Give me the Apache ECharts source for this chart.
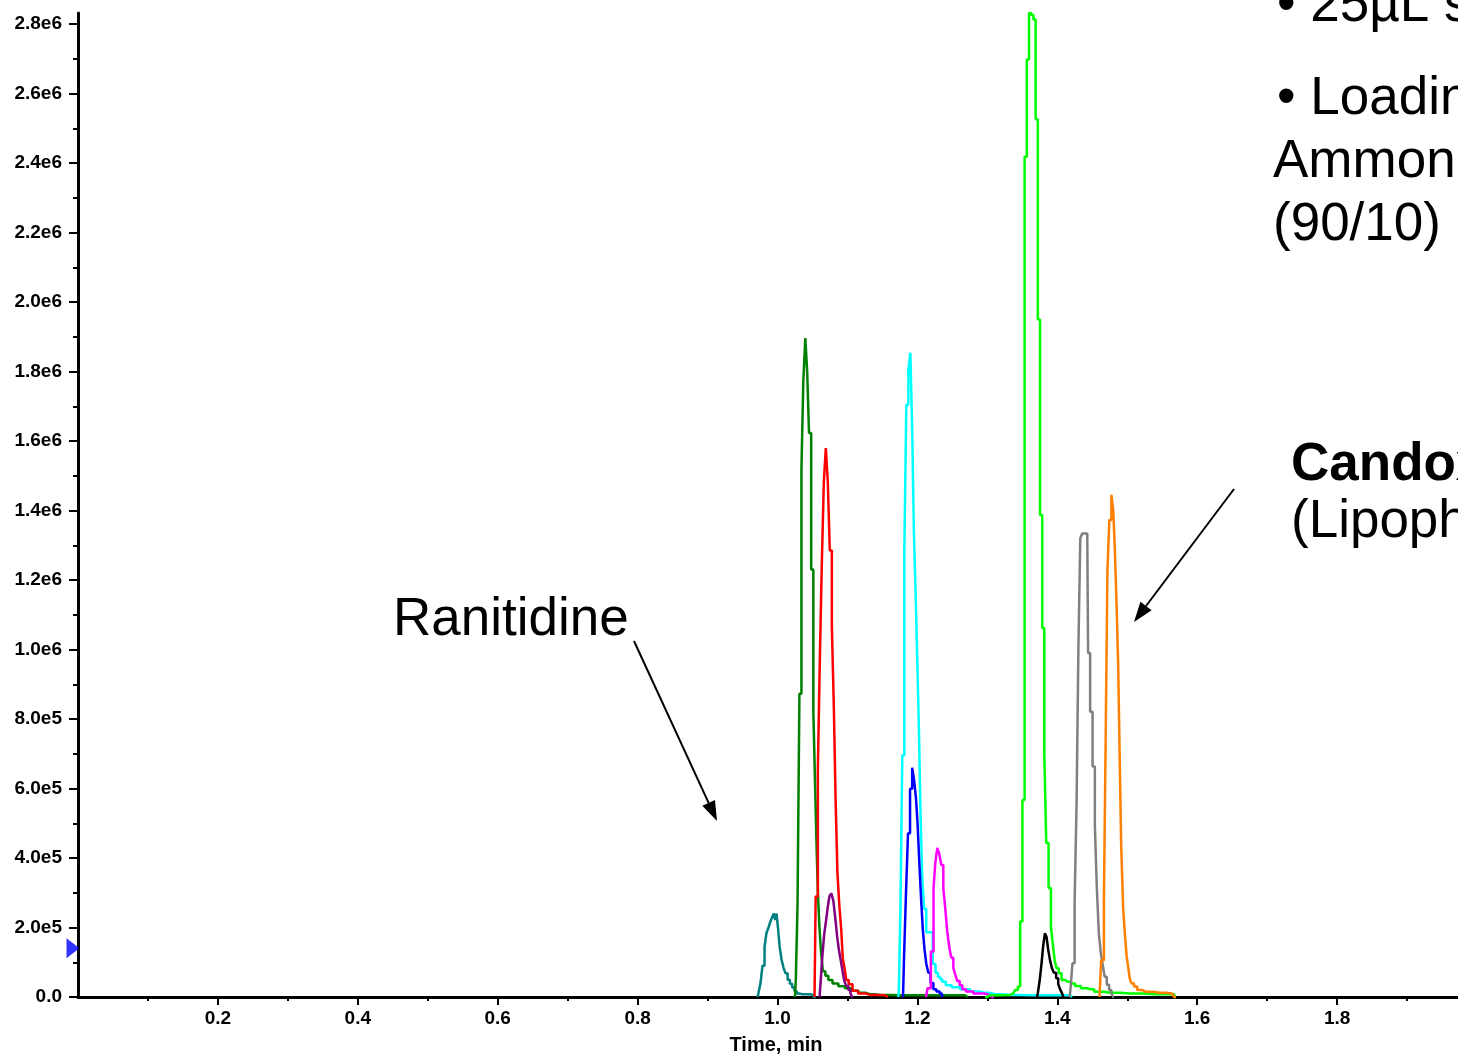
<!DOCTYPE html>
<html>
<head>
<meta charset="utf-8">
<script src="https://cdn.jsdelivr.net/npm/echarts@6/dist/echarts.min.js"></script>
<style>
  html, body { margin: 0; padding: 0; background: #ffffff; overflow: hidden; }
  #chart { width: 1458px; height: 1055px; }
</style>
</head>
<body>
<div id="chart"></div>
<script>
// Extracted ion chromatograms: [retention time (min), intensity (cps)]
const tealTrace = [
  [0.9714,0],[0.9743,12000],[0.9771,40000],[0.9800,90000],[0.9829,145000],[0.9857,185000],
  [0.9886,200000],[0.9914,218000],[0.9936,230000],[0.9957,240000],[0.9976,222000],[0.9996,240000],
  [1.0017,200000],[1.0043,145000],[1.0072,108000],[1.0100,84000],[1.0129,68000],[1.0160,50000],
  [1.0193,38000],[1.0226,27000],[1.0257,17000],[1.0290,10000],[1.0322,8000],[1.0393,8000],
  [1.0493,7000],[1.0550,0]
];
const darkGreenTrace = [
  [1.0250,0],[1.0275,55000],[1.0297,264000],[1.0329,873000],[1.0355,1519000],[1.0383,1773000],
  [1.0412,1896000],[1.0436,1800000],[1.0465,1623000],[1.0498,1230000],[1.0526,824000],[1.0550,603000],
  [1.0569,424000],[1.0586,301000],[1.0608,209000],[1.0632,135000],[1.0665,74000],[1.0703,61000],
  [1.0751,49000],[1.0822,39000],[1.0918,31000],[1.1008,25000],[1.1108,18000],[1.1208,12000],
  [1.1322,8000],[1.1465,6000],[1.1751,5000],[1.2180,5000],[1.2681,5000],[1.2723,0]
];
const redTrace = [
  [1.0529,0],[1.0562,289000],[1.0591,652000],[1.0619,971000],[1.0648,1248000],[1.0676,1482000],
  [1.0705,1580000],[1.0733,1482000],[1.0762,1285000],[1.0791,1070000],[1.0819,836000],[1.0844,560000],
  [1.0869,357000],[1.0898,264000],[1.0922,197000],[1.0944,111000],[1.0968,86000],[1.0998,49000],
  [1.1037,37000],[1.1108,18000],[1.1194,10000],[1.1322,6000],[1.1537,5000],[1.1580,0]
];
const purpleTrace = [
  [1.0601,0],[1.0629,40000],[1.0655,120000],[1.0679,180000],[1.0703,215000],[1.0729,255000],
  [1.0755,290000],[1.0784,298000],[1.0812,277000],[1.0839,228000],[1.0865,175000],[1.0891,135000],
  [1.0918,105000],[1.0942,74000],[1.0968,46000],[1.0998,32000],[1.1027,20000],[1.1058,10000],[1.1079,0]
];
const cyanTrace = [
  [1.1723,0],[1.1744,10000],[1.1769,247000],[1.1799,696000],[1.1827,1285000],[1.1856,1704000],
  [1.1885,1805000],[1.1913,1854000],[1.1937,1637000],[1.1962,1340000],[1.1984,1170000],[1.2009,981000],
  [1.2033,775000],[1.2056,526000],[1.2084,338000],[1.2109,253000],[1.2144,186000],[1.2195,186000],
  [1.2242,95000],[1.2276,70000],[1.2309,58000],[1.2337,52000],[1.2370,44000],[1.2442,34000],
  [1.2538,28000],[1.2681,22000],[1.2824,16000],[1.2967,12000],[1.3109,8000],[1.3324,6000],
  [1.3610,5000],[1.3896,5000],[1.4182,5000],[1.4210,0]
];
const blueTrace = [
  [1.1794,0],[1.1823,113000],[1.1851,301000],[1.1880,471000],[1.1909,599000],[1.1941,660000],
  [1.1966,623000],[1.1990,575000],[1.2013,502000],[1.2042,386000],[1.2066,277000],[1.2090,192000],
  [1.2113,137000],[1.2142,95000],[1.2170,70000],[1.2205,40000],[1.2252,22000],[1.2290,16000],
  [1.2348,10000],[1.2366,0]
];
const magentaTrace = [
  [1.2123,0],[1.2166,25000],[1.2219,131000],[1.2242,313000],[1.2270,386000],[1.2299,429000],
  [1.2327,411000],[1.2356,380000],[1.2385,313000],[1.2413,253000],[1.2442,186000],[1.2470,143000],
  [1.2499,113000],[1.2528,83000],[1.2556,64000],[1.2585,46000],[1.2623,34000],[1.2662,22000],
  [1.2728,16000],[1.2871,10000],[1.3038,6000],[1.3095,0]
];
const limeTrace = [
  [1.2967,0],[1.3038,5000],[1.3324,6000],[1.3371,10000],[1.3420,20000],[1.3453,30000],
  [1.3485,217000],[1.3517,567000],[1.3548,2418000],[1.3580,2698000],[1.3611,2832000],[1.3643,2826000],
  [1.3674,2813000],[1.3706,2526000],[1.3737,1950000],[1.3769,1387000],[1.3800,1062000],[1.3827,702000],
  [1.3857,443000],[1.3893,314000],[1.3924,202000],[1.3950,150000],[1.3974,106000],[1.4003,83000],
  [1.4039,68000],[1.4082,49000],[1.4146,44000],[1.4217,39000],[1.4289,32000],[1.4382,25000],
  [1.4475,22000],[1.4582,15000],[1.4754,12000],[1.5039,10000],[1.5397,8000],[1.5668,8000],[1.5697,0]
];
const blackTrace = [
  [1.3710,0],[1.3731,10000],[1.3763,46000],[1.3786,97000],[1.3810,147000],[1.3834,183000],
  [1.3857,173000],[1.3884,135000],[1.3910,104000],[1.3936,83000],[1.3967,70000],[1.3999,54000],
  [1.4027,37000],[1.4053,22000],[1.4077,12000],[1.4096,0]
];
const grayTrace = [
  [1.4175,0],[1.4200,20000],[1.4232,97000],[1.4263,274000],[1.4289,567000],[1.4315,1013000],
  [1.4342,1320000],[1.4370,1334000],[1.4399,1334000],[1.4428,1334000],[1.4452,990000],[1.4486,821000],
  [1.4522,663000],[1.4551,495000],[1.4579,314000],[1.4608,184000],[1.4635,127000],[1.4663,92000],
  [1.4692,58000],[1.4722,35000],[1.4758,20000],[1.4789,10000],[1.4811,0]
];
const orangeTrace = [
  [1.4603,0],[1.4651,106000],[1.4681,279000],[1.4703,759000],[1.4729,1224000],[1.4758,1373000],
  [1.4788,1445000],[1.4811,1401000],[1.4836,1281000],[1.4859,1128000],[1.4882,950000],[1.4899,702000],
  [1.4927,437000],[1.4955,256000],[1.4979,178000],[1.5004,116000],[1.5027,83000],[1.5051,49000],
  [1.5079,39000],[1.5115,30000],[1.5168,20000],[1.5268,15000],[1.5468,12000],[1.5640,10000],[1.5697,0]
];

// Threshold marker level on the intensity axis
const thresholdLevel = 140000;

// Axis ticks
const xTicks = [0.2, 0.4, 0.6, 0.8, 1.0, 1.2, 1.4, 1.6, 1.8];
const xMinorTicks = [0.1, 0.3, 0.5, 0.7, 0.9, 1.1, 1.3, 1.5, 1.7, 1.9];
const yTicks = [0, 2e5, 4e5, 6e5, 8e5, 1e6, 1.2e6, 1.4e6, 1.6e6, 1.8e6, 2e6, 2.2e6, 2.4e6, 2.6e6, 2.8e6];
const yMinorTicks = [1e5, 3e5, 5e5, 7e5, 9e5, 1.1e6, 1.3e6, 1.5e6, 1.7e6, 1.9e6, 2.1e6, 2.3e6, 2.5e6, 2.7e6];

// Trace colours, in drawing order
const traces = [
  { data: tealTrace, color: '#008080' },
  { data: darkGreenTrace, color: '#008000' },
  { data: redTrace, color: '#ff0000' },
  { data: purpleTrace, color: '#800080' },
  { data: cyanTrace, color: '#00ffff' },
  { data: blueTrace, color: '#0000ff' },
  { data: magentaTrace, color: '#ff00ff' },
  { data: limeTrace, color: '#00ff00' },
  { data: blackTrace, color: '#000000' },
  { data: grayTrace, color: '#808080' },
  { data: orangeTrace, color: '#ff8000' }
];

const X_MAX = 1.9728;
const Y_MAX = 2831700;
const FONT = '"Liberation Sans", Arial, sans-serif';

function sci(v) {
  if (v === 0) return '0.0';
  const e = Math.floor(Math.log10(v) + 1e-9);
  return (v / Math.pow(10, e)).toFixed(1) + 'e' + e;
}

function arrow(x0, y0, x1, y1) {
  const dx = x1 - x0, dy = y1 - y0, L = Math.hypot(dx, dy);
  const ux = dx / L, uy = dy / L, hl = 20, hw = 7;
  const bx = x1 - ux * hl, by = y1 - uy * hl;
  return [
    { type: 'line', shape: { x1: x0, y1: y0, x2: bx, y2: by }, style: { stroke: '#000', lineWidth: 2 } },
    { type: 'polygon', shape: { points: [[x1, y1], [bx - uy * hw, by + ux * hw], [bx + uy * hw, by - ux * hw]] },
      style: { fill: '#000' } }
  ];
}

function label(x, y, text, bold) {
  return {
    type: 'text', x: x, y: y,
    style: { text: text, fill: '#000', fontSize: 53, fontFamily: FONT,
             fontWeight: bold ? 'bold' : 'normal', align: 'left', verticalAlign: 'middle' }
  };
}

const chart = echarts.init(document.getElementById('chart'), null, { renderer: 'canvas' });

const axisText = { color: '#000', fontSize: 19, fontWeight: 'bold', fontFamily: FONT };

chart.setOption({
  animation: false,
  backgroundColor: '#ffffff',
  grid: { left: 78, right: 0, top: 13, bottom: 58, containLabel: false, outerBoundsMode: 'none' },
  xAxis: [
    {
      type: 'value', min: 0, max: X_MAX, interval: 0.2,
      name: 'Time, min', nameLocation: 'middle', nameGap: 38,
      nameTextStyle: { color: '#000', fontSize: 20, fontWeight: 'bold', fontFamily: FONT, padding: [0, 0, 0, 16] },
      axisLine: { show: true, onZero: false, lineStyle: { color: '#000', width: 3 } },
      axisTick: { show: true, customValues: xTicks, length: 8, lineStyle: { color: '#000', width: 2 } },
      axisLabel: Object.assign({ customValues: xTicks, margin: 12, formatter: v => v.toFixed(1) }, axisText),
      splitLine: { show: false }
    },
    {
      type: 'value', min: 0, max: X_MAX, position: 'bottom',
      axisLine: { show: false }, axisLabel: { show: false }, splitLine: { show: false },
      axisTick: { show: true, customValues: xMinorTicks, length: 4, lineStyle: { color: '#000', width: 2 } }
    }
  ],
  yAxis: [
    {
      type: 'value', min: 0, max: Y_MAX, interval: 200000,
      axisLine: { show: true, onZero: false, lineStyle: { color: '#000', width: 3 } },
      axisTick: { show: true, customValues: yTicks, length: 9, lineStyle: { color: '#000', width: 2 } },
      axisLabel: Object.assign({ customValues: yTicks, margin: 16, formatter: sci }, axisText),
      splitLine: { show: false }
    },
    {
      type: 'value', min: 0, max: Y_MAX, position: 'left',
      axisLine: { show: false }, axisLabel: { show: false }, splitLine: { show: false },
      axisTick: { show: true, customValues: yMinorTicks, length: 5, lineStyle: { color: '#000', width: 2 } }
    }
  ],
  series: traces.map(tr => ({
    type: 'line', data: tr.data, step: 'middle', showSymbol: false, symbol: 'none',
    clip: false, silent: true, xAxisIndex: 0, yAxisIndex: 0,
    lineStyle: { color: tr.color, width: 2.5 }, itemStyle: { color: tr.color }
  })).concat([{
    type: 'scatter', data: [[0, thresholdLevel]], symbol: 'triangle', symbolSize: [20, 13],
    symbolRotate: -90, symbolOffset: [-5, 0], clip: false, silent: true, z: 5,
    itemStyle: { color: '#0000ff' }
  }]),
  graphic: [
    label(1277, 6, '• 25µL sample', false),
    label(1277, 99, '• Loading', false),
    label(1273, 162, 'Ammonium', false),
    label(1273, 225, '(90/10)', false),
    label(1291, 465, 'Candoxatril', true),
    label(1291, 522, '(Lipophilic)', false),
    label(393, 620, 'Ranitidine', false)
  ].concat(arrow(634, 641, 717, 821), arrow(1234, 489, 1134, 622))
});
</script>
</body>
</html>
